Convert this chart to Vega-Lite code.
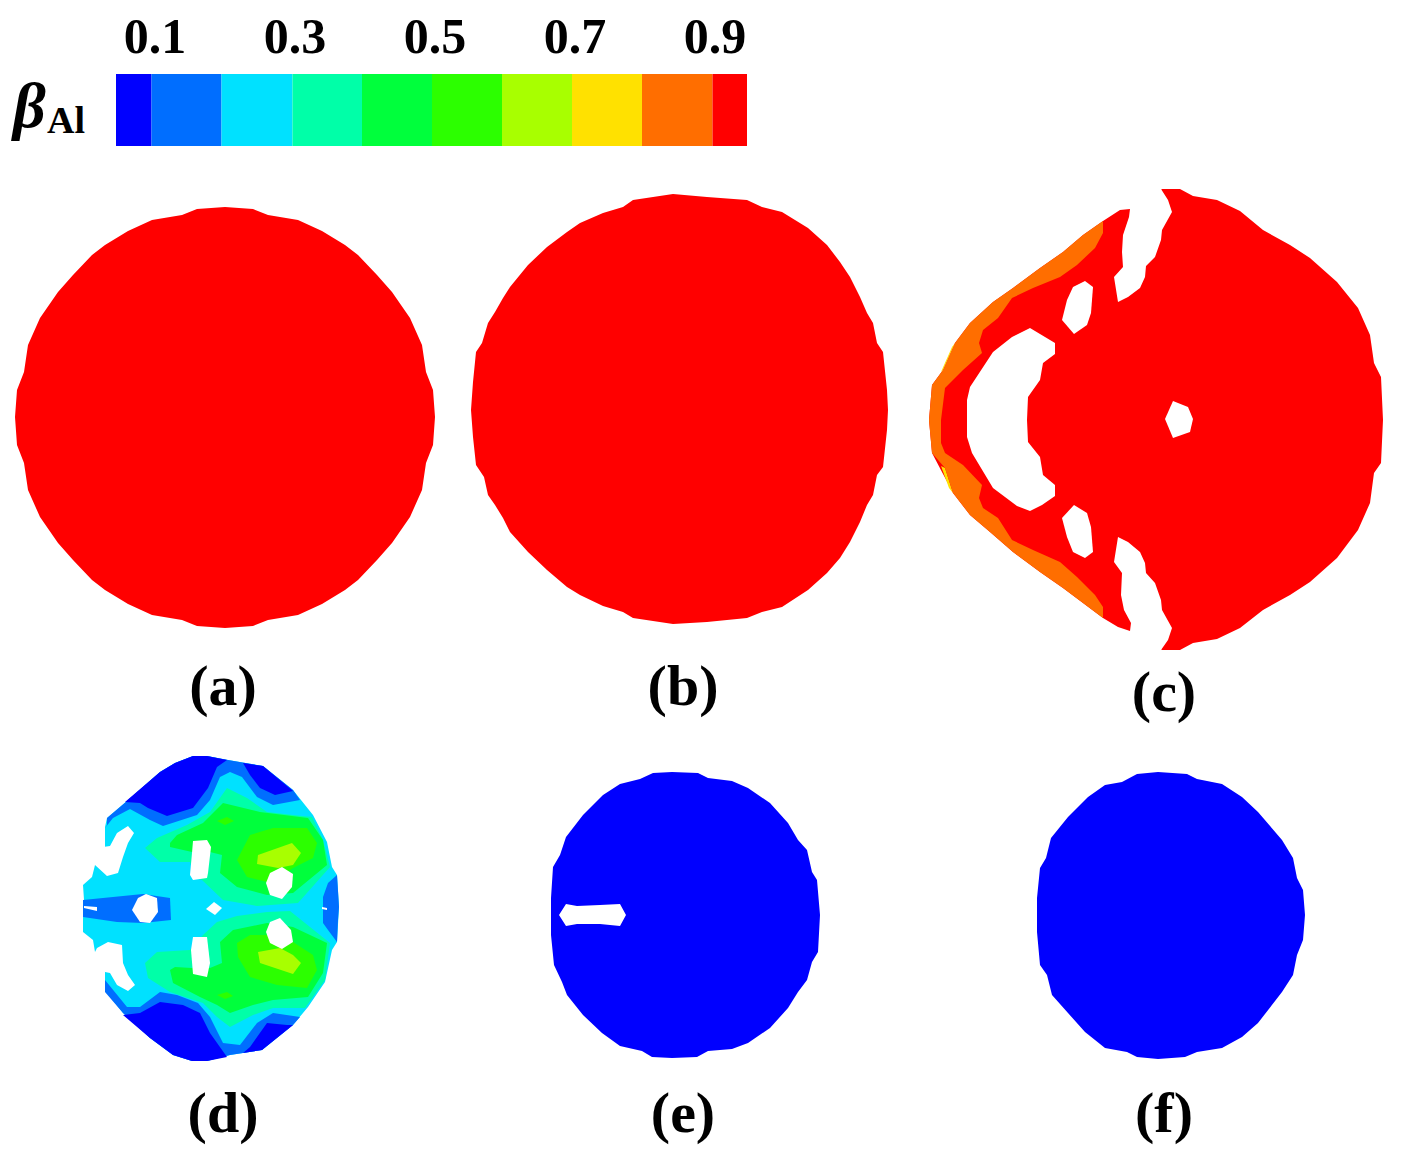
{"$schema":"https://vega.github.io/schema/vega-lite/v6.json","width":1407,"height":1161,"padding":0,"autosize":{"type":"fit","contains":"padding"},"background":"white","view":{"stroke":null},
"layer":[
{"data":{"name":"regions","values":[
{"part":"a","band":"0.9-1","x":225,"y":207},{"part":"a","band":"0.9-1","x":253,"y":209},{"part":"a","band":"0.9-1","x":268,"y":215},{"part":"a","band":"0.9-1","x":298,"y":220},{"part":"a","band":"0.9-1","x":322,"y":231},{"part":"a","band":"0.9-1","x":345,"y":245},{"part":"a","band":"0.9-1","x":358,"y":255},{"part":"a","band":"0.9-1","x":377,"y":275},{"part":"a","band":"0.9-1","x":392,"y":292},{"part":"a","band":"0.9-1","x":410,"y":318},{"part":"a","band":"0.9-1","x":422,"y":345},{"part":"a","band":"0.9-1","x":426,"y":372},{"part":"a","band":"0.9-1","x":433,"y":390},{"part":"a","band":"0.9-1","x":435,"y":417},{"part":"a","band":"0.9-1","x":433,"y":445},{"part":"a","band":"0.9-1","x":426,"y":463},{"part":"a","band":"0.9-1","x":422,"y":490},{"part":"a","band":"0.9-1","x":410,"y":517},{"part":"a","band":"0.9-1","x":392,"y":543},{"part":"a","band":"0.9-1","x":377,"y":560},{"part":"a","band":"0.9-1","x":358,"y":580},{"part":"a","band":"0.9-1","x":345,"y":590},{"part":"a","band":"0.9-1","x":322,"y":604},{"part":"a","band":"0.9-1","x":298,"y":615},{"part":"a","band":"0.9-1","x":268,"y":620},{"part":"a","band":"0.9-1","x":253,"y":626},{"part":"a","band":"0.9-1","x":225,"y":628},{"part":"a","band":"0.9-1","x":197,"y":626},{"part":"a","band":"0.9-1","x":182,"y":620},{"part":"a","band":"0.9-1","x":152,"y":615},{"part":"a","band":"0.9-1","x":128,"y":604},{"part":"a","band":"0.9-1","x":105,"y":590},{"part":"a","band":"0.9-1","x":92,"y":580},{"part":"a","band":"0.9-1","x":73,"y":560},{"part":"a","band":"0.9-1","x":58,"y":543},{"part":"a","band":"0.9-1","x":40,"y":517},{"part":"a","band":"0.9-1","x":28,"y":490},{"part":"a","band":"0.9-1","x":24,"y":463},{"part":"a","band":"0.9-1","x":17,"y":445},{"part":"a","band":"0.9-1","x":15,"y":417},{"part":"a","band":"0.9-1","x":17,"y":390},{"part":"a","band":"0.9-1","x":24,"y":372},{"part":"a","band":"0.9-1","x":28,"y":345},{"part":"a","band":"0.9-1","x":40,"y":318},{"part":"a","band":"0.9-1","x":58,"y":292},{"part":"a","band":"0.9-1","x":73,"y":275},{"part":"a","band":"0.9-1","x":92,"y":255},{"part":"a","band":"0.9-1","x":105,"y":245},{"part":"a","band":"0.9-1","x":128,"y":231},{"part":"a","band":"0.9-1","x":152,"y":220},{"part":"a","band":"0.9-1","x":182,"y":215},{"part":"a","band":"0.9-1","x":197,"y":209},
{"part":"b","band":"0.9-1","x":673,"y":194},{"part":"b","band":"0.9-1","x":707,"y":197},{"part":"b","band":"0.9-1","x":747,"y":200},{"part":"b","band":"0.9-1","x":762,"y":207},{"part":"b","band":"0.9-1","x":782,"y":212},{"part":"b","band":"0.9-1","x":808,"y":228},{"part":"b","band":"0.9-1","x":827,"y":245},{"part":"b","band":"0.9-1","x":840,"y":262},{"part":"b","band":"0.9-1","x":850,"y":277},{"part":"b","band":"0.9-1","x":860,"y":297},{"part":"b","band":"0.9-1","x":867,"y":313},{"part":"b","band":"0.9-1","x":873,"y":323},{"part":"b","band":"0.9-1","x":877,"y":343},{"part":"b","band":"0.9-1","x":883,"y":352},{"part":"b","band":"0.9-1","x":887,"y":390},{"part":"b","band":"0.9-1","x":888,"y":410},{"part":"b","band":"0.9-1","x":887,"y":430},{"part":"b","band":"0.9-1","x":883,"y":467},{"part":"b","band":"0.9-1","x":877,"y":475},{"part":"b","band":"0.9-1","x":873,"y":495},{"part":"b","band":"0.9-1","x":867,"y":505},{"part":"b","band":"0.9-1","x":860,"y":522},{"part":"b","band":"0.9-1","x":850,"y":542},{"part":"b","band":"0.9-1","x":840,"y":558},{"part":"b","band":"0.9-1","x":827,"y":573},{"part":"b","band":"0.9-1","x":808,"y":590},{"part":"b","band":"0.9-1","x":782,"y":607},{"part":"b","band":"0.9-1","x":762,"y":612},{"part":"b","band":"0.9-1","x":747,"y":618},{"part":"b","band":"0.9-1","x":707,"y":622},{"part":"b","band":"0.9-1","x":673,"y":624},{"part":"b","band":"0.9-1","x":633,"y":618},{"part":"b","band":"0.9-1","x":623,"y":612},{"part":"b","band":"0.9-1","x":603,"y":606},{"part":"b","band":"0.9-1","x":580,"y":595},{"part":"b","band":"0.9-1","x":567,"y":587},{"part":"b","band":"0.9-1","x":547,"y":570},{"part":"b","band":"0.9-1","x":528,"y":552},{"part":"b","band":"0.9-1","x":510,"y":532},{"part":"b","band":"0.9-1","x":503,"y":518},{"part":"b","band":"0.9-1","x":495,"y":505},{"part":"b","band":"0.9-1","x":488,"y":495},{"part":"b","band":"0.9-1","x":484,"y":477},{"part":"b","band":"0.9-1","x":476,"y":465},{"part":"b","band":"0.9-1","x":473,"y":437},{"part":"b","band":"0.9-1","x":471,"y":410},{"part":"b","band":"0.9-1","x":473,"y":382},{"part":"b","band":"0.9-1","x":476,"y":352},{"part":"b","band":"0.9-1","x":482,"y":343},{"part":"b","band":"0.9-1","x":488,"y":323},{"part":"b","band":"0.9-1","x":495,"y":312},{"part":"b","band":"0.9-1","x":503,"y":298},{"part":"b","band":"0.9-1","x":510,"y":287},{"part":"b","band":"0.9-1","x":528,"y":265},{"part":"b","band":"0.9-1","x":547,"y":247},{"part":"b","band":"0.9-1","x":567,"y":232},{"part":"b","band":"0.9-1","x":580,"y":223},{"part":"b","band":"0.9-1","x":603,"y":213},{"part":"b","band":"0.9-1","x":623,"y":207},{"part":"b","band":"0.9-1","x":633,"y":200},
{"part":"c","band":"0.9-1","x":1162,"y":189},{"part":"c","band":"0.9-1","x":1180,"y":189},{"part":"c","band":"0.9-1","x":1193,"y":196},{"part":"c","band":"0.9-1","x":1217,"y":200},{"part":"c","band":"0.9-1","x":1240,"y":211},{"part":"c","band":"0.9-1","x":1263,"y":230},{"part":"c","band":"0.9-1","x":1290,"y":245},{"part":"c","band":"0.9-1","x":1310,"y":258},{"part":"c","band":"0.9-1","x":1337,"y":282},{"part":"c","band":"0.9-1","x":1358,"y":308},{"part":"c","band":"0.9-1","x":1370,"y":335},{"part":"c","band":"0.9-1","x":1374,"y":363},{"part":"c","band":"0.9-1","x":1381,"y":377},{"part":"c","band":"0.9-1","x":1383,"y":420},{"part":"c","band":"0.9-1","x":1381,"y":463},{"part":"c","band":"0.9-1","x":1374,"y":473},{"part":"c","band":"0.9-1","x":1370,"y":503},{"part":"c","band":"0.9-1","x":1358,"y":530},{"part":"c","band":"0.9-1","x":1337,"y":558},{"part":"c","band":"0.9-1","x":1310,"y":582},{"part":"c","band":"0.9-1","x":1290,"y":595},{"part":"c","band":"0.9-1","x":1263,"y":610},{"part":"c","band":"0.9-1","x":1240,"y":628},{"part":"c","band":"0.9-1","x":1217,"y":639},{"part":"c","band":"0.9-1","x":1193,"y":643},{"part":"c","band":"0.9-1","x":1180,"y":650},{"part":"c","band":"0.9-1","x":1162,"y":650},{"part":"c","band":"0.9-1","x":1130,"y":631},{"part":"c","band":"0.9-1","x":1118,"y":627},{"part":"c","band":"0.9-1","x":1103,"y":618},{"part":"c","band":"0.9-1","x":1083,"y":603},{"part":"c","band":"0.9-1","x":1063,"y":588},{"part":"c","band":"0.9-1","x":1040,"y":572},{"part":"c","band":"0.9-1","x":1013,"y":552},{"part":"c","band":"0.9-1","x":990,"y":532},{"part":"c","band":"0.9-1","x":970,"y":515},{"part":"c","band":"0.9-1","x":953,"y":493},{"part":"c","band":"0.9-1","x":932,"y":453},{"part":"c","band":"0.9-1","x":929,"y":420},{"part":"c","band":"0.9-1","x":932,"y":385},{"part":"c","band":"0.9-1","x":943,"y":370},{"part":"c","band":"0.9-1","x":955,"y":343},{"part":"c","band":"0.9-1","x":970,"y":323},{"part":"c","band":"0.9-1","x":993,"y":302},{"part":"c","band":"0.9-1","x":1013,"y":288},{"part":"c","band":"0.9-1","x":1040,"y":268},{"part":"c","band":"0.9-1","x":1063,"y":252},{"part":"c","band":"0.9-1","x":1083,"y":235},{"part":"c","band":"0.9-1","x":1103,"y":221},{"part":"c","band":"0.9-1","x":1120,"y":210},{"part":"c","band":"0.9-1","x":1130,"y":209},
{"part":"c-y1","band":"0.7-0.8","x":955,"y":343},{"part":"c-y1","band":"0.7-0.8","x":943,"y":370},{"part":"c-y1","band":"0.7-0.8","x":941,"y":372},{"part":"c-y1","band":"0.7-0.8","x":952,"y":347},
{"part":"c-y2","band":"0.7-0.8","x":941,"y":466},{"part":"c-y2","band":"0.7-0.8","x":949,"y":488},{"part":"c-y2","band":"0.7-0.8","x":953,"y":493},{"part":"c-y2","band":"0.7-0.8","x":945,"y":468},
{"part":"c-o","band":"0.8-0.9","x":1103,"y":221},{"part":"c-o","band":"0.8-0.9","x":1083,"y":235},{"part":"c-o","band":"0.8-0.9","x":1063,"y":252},{"part":"c-o","band":"0.8-0.9","x":1040,"y":268},{"part":"c-o","band":"0.8-0.9","x":1013,"y":288},{"part":"c-o","band":"0.8-0.9","x":993,"y":302},{"part":"c-o","band":"0.8-0.9","x":970,"y":323},{"part":"c-o","band":"0.8-0.9","x":955,"y":343},{"part":"c-o","band":"0.8-0.9","x":943,"y":370},{"part":"c-o","band":"0.8-0.9","x":932,"y":385},{"part":"c-o","band":"0.8-0.9","x":929,"y":420},{"part":"c-o","band":"0.8-0.9","x":932,"y":453},{"part":"c-o","band":"0.8-0.9","x":945,"y":468},{"part":"c-o","band":"0.8-0.9","x":953,"y":493},{"part":"c-o","band":"0.8-0.9","x":970,"y":515},{"part":"c-o","band":"0.8-0.9","x":990,"y":532},{"part":"c-o","band":"0.8-0.9","x":1013,"y":552},{"part":"c-o","band":"0.8-0.9","x":1040,"y":572},{"part":"c-o","band":"0.8-0.9","x":1063,"y":588},{"part":"c-o","band":"0.8-0.9","x":1083,"y":603},{"part":"c-o","band":"0.8-0.9","x":1103,"y":618},{"part":"c-o","band":"0.8-0.9","x":1103,"y":607},{"part":"c-o","band":"0.8-0.9","x":1095,"y":595},{"part":"c-o","band":"0.8-0.9","x":1077,"y":577},{"part":"c-o","band":"0.8-0.9","x":1060,"y":562},{"part":"c-o","band":"0.8-0.9","x":1033,"y":550},{"part":"c-o","band":"0.8-0.9","x":1012,"y":540},{"part":"c-o","band":"0.8-0.9","x":998,"y":518},{"part":"c-o","band":"0.8-0.9","x":983,"y":508},{"part":"c-o","band":"0.8-0.9","x":979,"y":498},{"part":"c-o","band":"0.8-0.9","x":982,"y":485},{"part":"c-o","band":"0.8-0.9","x":963,"y":465},{"part":"c-o","band":"0.8-0.9","x":945,"y":453},{"part":"c-o","band":"0.8-0.9","x":941,"y":443},{"part":"c-o","band":"0.8-0.9","x":941,"y":420},{"part":"c-o","band":"0.8-0.9","x":945,"y":388},{"part":"c-o","band":"0.8-0.9","x":963,"y":370},{"part":"c-o","band":"0.8-0.9","x":982,"y":353},{"part":"c-o","band":"0.8-0.9","x":979,"y":343},{"part":"c-o","band":"0.8-0.9","x":983,"y":330},{"part":"c-o","band":"0.8-0.9","x":998,"y":318},{"part":"c-o","band":"0.8-0.9","x":1012,"y":298},{"part":"c-o","band":"0.8-0.9","x":1033,"y":288},{"part":"c-o","band":"0.8-0.9","x":1060,"y":277},{"part":"c-o","band":"0.8-0.9","x":1077,"y":265},{"part":"c-o","band":"0.8-0.9","x":1095,"y":248},{"part":"c-o","band":"0.8-0.9","x":1103,"y":233},
{"part":"c-h1","band":"none","x":1130,"y":209},{"part":"c-h1","band":"none","x":1129,"y":217},{"part":"c-h1","band":"none","x":1123,"y":235},{"part":"c-h1","band":"none","x":1122,"y":252},{"part":"c-h1","band":"none","x":1123,"y":267},{"part":"c-h1","band":"none","x":1114,"y":277},{"part":"c-h1","band":"none","x":1118,"y":302},{"part":"c-h1","band":"none","x":1128,"y":297},{"part":"c-h1","band":"none","x":1140,"y":288},{"part":"c-h1","band":"none","x":1145,"y":277},{"part":"c-h1","band":"none","x":1146,"y":266},{"part":"c-h1","band":"none","x":1155,"y":257},{"part":"c-h1","band":"none","x":1161,"y":240},{"part":"c-h1","band":"none","x":1162,"y":230},{"part":"c-h1","band":"none","x":1172,"y":212},{"part":"c-h1","band":"none","x":1168,"y":200},{"part":"c-h1","band":"none","x":1161,"y":189},{"part":"c-h1","band":"none","x":1150,"y":185},{"part":"c-h1","band":"none","x":1128,"y":200},
{"part":"c-h2","band":"none","x":1130,"y":631},{"part":"c-h2","band":"none","x":1131,"y":623},{"part":"c-h2","band":"none","x":1124,"y":610},{"part":"c-h2","band":"none","x":1121,"y":595},{"part":"c-h2","band":"none","x":1122,"y":573},{"part":"c-h2","band":"none","x":1114,"y":562},{"part":"c-h2","band":"none","x":1118,"y":537},{"part":"c-h2","band":"none","x":1128,"y":542},{"part":"c-h2","band":"none","x":1140,"y":552},{"part":"c-h2","band":"none","x":1145,"y":563},{"part":"c-h2","band":"none","x":1146,"y":573},{"part":"c-h2","band":"none","x":1155,"y":583},{"part":"c-h2","band":"none","x":1161,"y":600},{"part":"c-h2","band":"none","x":1162,"y":610},{"part":"c-h2","band":"none","x":1172,"y":628},{"part":"c-h2","band":"none","x":1168,"y":640},{"part":"c-h2","band":"none","x":1161,"y":650},{"part":"c-h2","band":"none","x":1150,"y":654},{"part":"c-h2","band":"none","x":1128,"y":640},
{"part":"c-h3","band":"none","x":1055,"y":343},{"part":"c-h3","band":"none","x":1055,"y":354},{"part":"c-h3","band":"none","x":1043,"y":363},{"part":"c-h3","band":"none","x":1040,"y":380},{"part":"c-h3","band":"none","x":1028,"y":397},{"part":"c-h3","band":"none","x":1027,"y":420},{"part":"c-h3","band":"none","x":1028,"y":442},{"part":"c-h3","band":"none","x":1040,"y":457},{"part":"c-h3","band":"none","x":1043,"y":475},{"part":"c-h3","band":"none","x":1055,"y":485},{"part":"c-h3","band":"none","x":1055,"y":496},{"part":"c-h3","band":"none","x":1042,"y":505},{"part":"c-h3","band":"none","x":1030,"y":511},{"part":"c-h3","band":"none","x":1017,"y":506},{"part":"c-h3","band":"none","x":993,"y":488},{"part":"c-h3","band":"none","x":972,"y":453},{"part":"c-h3","band":"none","x":967,"y":437},{"part":"c-h3","band":"none","x":967,"y":420},{"part":"c-h3","band":"none","x":967,"y":400},{"part":"c-h3","band":"none","x":970,"y":387},{"part":"c-h3","band":"none","x":993,"y":352},{"part":"c-h3","band":"none","x":1012,"y":337},{"part":"c-h3","band":"none","x":1030,"y":328},
{"part":"c-h4","band":"none","x":1085,"y":281},{"part":"c-h4","band":"none","x":1093,"y":287},{"part":"c-h4","band":"none","x":1091,"y":313},{"part":"c-h4","band":"none","x":1087,"y":325},{"part":"c-h4","band":"none","x":1074,"y":334},{"part":"c-h4","band":"none","x":1062,"y":320},{"part":"c-h4","band":"none","x":1067,"y":300},{"part":"c-h4","band":"none","x":1073,"y":287},
{"part":"c-h5","band":"none","x":1074,"y":505},{"part":"c-h5","band":"none","x":1087,"y":513},{"part":"c-h5","band":"none","x":1091,"y":527},{"part":"c-h5","band":"none","x":1093,"y":552},{"part":"c-h5","band":"none","x":1085,"y":558},{"part":"c-h5","band":"none","x":1073,"y":552},{"part":"c-h5","band":"none","x":1067,"y":537},{"part":"c-h5","band":"none","x":1062,"y":518},
{"part":"c-h6","band":"none","x":1173,"y":401},{"part":"c-h6","band":"none","x":1188,"y":407},{"part":"c-h6","band":"none","x":1193,"y":419},{"part":"c-h6","band":"none","x":1190,"y":432},{"part":"c-h6","band":"none","x":1173,"y":438},{"part":"c-h6","band":"none","x":1165,"y":419},
{"part":"d-base","band":"0.2-0.3","x":193,"y":756},{"part":"d-base","band":"0.2-0.3","x":207,"y":756},{"part":"d-base","band":"0.2-0.3","x":228,"y":760},{"part":"d-base","band":"0.2-0.3","x":263,"y":766},{"part":"d-base","band":"0.2-0.3","x":293,"y":790},{"part":"d-base","band":"0.2-0.3","x":313,"y":815},{"part":"d-base","band":"0.2-0.3","x":327,"y":842},{"part":"d-base","band":"0.2-0.3","x":332,"y":867},{"part":"d-base","band":"0.2-0.3","x":337,"y":875},{"part":"d-base","band":"0.2-0.3","x":339,"y":907},{"part":"d-base","band":"0.2-0.3","x":337,"y":942},{"part":"d-base","band":"0.2-0.3","x":332,"y":950},{"part":"d-base","band":"0.2-0.3","x":325,"y":982},{"part":"d-base","band":"0.2-0.3","x":308,"y":1007},{"part":"d-base","band":"0.2-0.3","x":293,"y":1025},{"part":"d-base","band":"0.2-0.3","x":262,"y":1050},{"part":"d-base","band":"0.2-0.3","x":230,"y":1055},{"part":"d-base","band":"0.2-0.3","x":207,"y":1061},{"part":"d-base","band":"0.2-0.3","x":192,"y":1061},{"part":"d-base","band":"0.2-0.3","x":173,"y":1055},{"part":"d-base","band":"0.2-0.3","x":150,"y":1038},{"part":"d-base","band":"0.2-0.3","x":123,"y":1013},{"part":"d-base","band":"0.2-0.3","x":105,"y":990},{"part":"d-base","band":"0.2-0.3","x":105,"y":972},{"part":"d-base","band":"0.2-0.3","x":95,"y":952},{"part":"d-base","band":"0.2-0.3","x":93,"y":940},{"part":"d-base","band":"0.2-0.3","x":83,"y":932},{"part":"d-base","band":"0.2-0.3","x":83,"y":918},{"part":"d-base","band":"0.2-0.3","x":84,"y":900},{"part":"d-base","band":"0.2-0.3","x":83,"y":885},{"part":"d-base","band":"0.2-0.3","x":92,"y":877},{"part":"d-base","band":"0.2-0.3","x":95,"y":865},{"part":"d-base","band":"0.2-0.3","x":105,"y":847},{"part":"d-base","band":"0.2-0.3","x":105,"y":827},{"part":"d-base","band":"0.2-0.3","x":107,"y":818},{"part":"d-base","band":"0.2-0.3","x":127,"y":801},{"part":"d-base","band":"0.2-0.3","x":160,"y":772},{"part":"d-base","band":"0.2-0.3","x":175,"y":763},
{"part":"d-m1","band":"0.1-0.2","x":107,"y":825},{"part":"d-m1","band":"0.1-0.2","x":107,"y":818},{"part":"d-m1","band":"0.1-0.2","x":127,"y":801},{"part":"d-m1","band":"0.1-0.2","x":160,"y":772},{"part":"d-m1","band":"0.1-0.2","x":175,"y":763},{"part":"d-m1","band":"0.1-0.2","x":193,"y":756},{"part":"d-m1","band":"0.1-0.2","x":207,"y":756},{"part":"d-m1","band":"0.1-0.2","x":228,"y":760},{"part":"d-m1","band":"0.1-0.2","x":263,"y":766},{"part":"d-m1","band":"0.1-0.2","x":293,"y":790},{"part":"d-m1","band":"0.1-0.2","x":300,"y":800},{"part":"d-m1","band":"0.1-0.2","x":273,"y":805},{"part":"d-m1","band":"0.1-0.2","x":257,"y":797},{"part":"d-m1","band":"0.1-0.2","x":242,"y":777},{"part":"d-m1","band":"0.1-0.2","x":230,"y":772},{"part":"d-m1","band":"0.1-0.2","x":220,"y":777},{"part":"d-m1","band":"0.1-0.2","x":210,"y":800},{"part":"d-m1","band":"0.1-0.2","x":197,"y":815},{"part":"d-m1","band":"0.1-0.2","x":163,"y":826},{"part":"d-m1","band":"0.1-0.2","x":150,"y":820},{"part":"d-m1","band":"0.1-0.2","x":130,"y":809},{"part":"d-m1","band":"0.1-0.2","x":113,"y":818},{"part":"d-m1","band":"0.1-0.2","x":105,"y":828},
{"part":"d-k1","band":"0-0.1","x":125,"y":802},{"part":"d-k1","band":"0-0.1","x":160,"y":772},{"part":"d-k1","band":"0-0.1","x":175,"y":763},{"part":"d-k1","band":"0-0.1","x":193,"y":756},{"part":"d-k1","band":"0-0.1","x":207,"y":756},{"part":"d-k1","band":"0-0.1","x":227,"y":760},{"part":"d-k1","band":"0-0.1","x":217,"y":767},{"part":"d-k1","band":"0-0.1","x":208,"y":788},{"part":"d-k1","band":"0-0.1","x":193,"y":808},{"part":"d-k1","band":"0-0.1","x":167,"y":816},{"part":"d-k1","band":"0-0.1","x":148,"y":808},{"part":"d-k1","band":"0-0.1","x":140,"y":803},
{"part":"d-k2","band":"0-0.1","x":243,"y":763},{"part":"d-k2","band":"0-0.1","x":263,"y":766},{"part":"d-k2","band":"0-0.1","x":293,"y":791},{"part":"d-k2","band":"0-0.1","x":275,"y":795},{"part":"d-k2","band":"0-0.1","x":260,"y":788},{"part":"d-k2","band":"0-0.1","x":250,"y":775},
{"part":"d-a1","band":"0.3-0.4","x":145,"y":848},{"part":"d-a1","band":"0.3-0.4","x":157,"y":838},{"part":"d-a1","band":"0.3-0.4","x":187,"y":825},{"part":"d-a1","band":"0.3-0.4","x":210,"y":812},{"part":"d-a1","band":"0.3-0.4","x":227,"y":788},{"part":"d-a1","band":"0.3-0.4","x":247,"y":798},{"part":"d-a1","band":"0.3-0.4","x":267,"y":812},{"part":"d-a1","band":"0.3-0.4","x":293,"y":815},{"part":"d-a1","band":"0.3-0.4","x":312,"y":817},{"part":"d-a1","band":"0.3-0.4","x":323,"y":840},{"part":"d-a1","band":"0.3-0.4","x":330,"y":867},{"part":"d-a1","band":"0.3-0.4","x":298,"y":903},{"part":"d-a1","band":"0.3-0.4","x":257,"y":906},{"part":"d-a1","band":"0.3-0.4","x":223,"y":900},{"part":"d-a1","band":"0.3-0.4","x":202,"y":880},{"part":"d-a1","band":"0.3-0.4","x":195,"y":878},{"part":"d-a1","band":"0.3-0.4","x":190,"y":862},{"part":"d-a1","band":"0.3-0.4","x":160,"y":862},
{"part":"d-g1","band":"0.4-0.5","x":170,"y":843},{"part":"d-g1","band":"0.4-0.5","x":177,"y":835},{"part":"d-g1","band":"0.4-0.5","x":203,"y":823},{"part":"d-g1","band":"0.4-0.5","x":223,"y":803},{"part":"d-g1","band":"0.4-0.5","x":260,"y":812},{"part":"d-g1","band":"0.4-0.5","x":308,"y":818},{"part":"d-g1","band":"0.4-0.5","x":323,"y":840},{"part":"d-g1","band":"0.4-0.5","x":327,"y":865},{"part":"d-g1","band":"0.4-0.5","x":293,"y":893},{"part":"d-g1","band":"0.4-0.5","x":267,"y":895},{"part":"d-g1","band":"0.4-0.5","x":237,"y":887},{"part":"d-g1","band":"0.4-0.5","x":220,"y":873},{"part":"d-g1","band":"0.4-0.5","x":222,"y":855},{"part":"d-g1","band":"0.4-0.5","x":210,"y":852},{"part":"d-g1","band":"0.4-0.5","x":192,"y":852},{"part":"d-g1","band":"0.4-0.5","x":170,"y":847},
{"part":"d-s1","band":"0.5-0.6","x":217,"y":821},{"part":"d-s1","band":"0.5-0.6","x":227,"y":817},{"part":"d-s1","band":"0.5-0.6","x":234,"y":821},{"part":"d-s1","band":"0.5-0.6","x":225,"y":825},
{"part":"d-l1","band":"0.5-0.6","x":237,"y":860},{"part":"d-l1","band":"0.5-0.6","x":250,"y":835},{"part":"d-l1","band":"0.5-0.6","x":273,"y":828},{"part":"d-l1","band":"0.5-0.6","x":307,"y":828},{"part":"d-l1","band":"0.5-0.6","x":317,"y":843},{"part":"d-l1","band":"0.5-0.6","x":313,"y":858},{"part":"d-l1","band":"0.5-0.6","x":293,"y":868},{"part":"d-l1","band":"0.5-0.6","x":273,"y":882},{"part":"d-l1","band":"0.5-0.6","x":267,"y":882},{"part":"d-l1","band":"0.5-0.6","x":247,"y":877},
{"part":"d-y1","band":"0.6-0.7","x":258,"y":855},{"part":"d-y1","band":"0.6-0.7","x":292,"y":843},{"part":"d-y1","band":"0.6-0.7","x":301,"y":853},{"part":"d-y1","band":"0.6-0.7","x":293,"y":865},{"part":"d-y1","band":"0.6-0.7","x":278,"y":868},{"part":"d-y1","band":"0.6-0.7","x":257,"y":864},
{"part":"d-a2","band":"0.3-0.4","x":145,"y":963},{"part":"d-a2","band":"0.3-0.4","x":157,"y":952},{"part":"d-a2","band":"0.3-0.4","x":190,"y":950},{"part":"d-a2","band":"0.3-0.4","x":203,"y":935},{"part":"d-a2","band":"0.3-0.4","x":217,"y":922},{"part":"d-a2","band":"0.3-0.4","x":237,"y":916},{"part":"d-a2","band":"0.3-0.4","x":267,"y":912},{"part":"d-a2","band":"0.3-0.4","x":290,"y":911},{"part":"d-a2","band":"0.3-0.4","x":330,"y":943},{"part":"d-a2","band":"0.3-0.4","x":325,"y":980},{"part":"d-a2","band":"0.3-0.4","x":305,"y":1008},{"part":"d-a2","band":"0.3-0.4","x":273,"y":1008},{"part":"d-a2","band":"0.3-0.4","x":253,"y":1015},{"part":"d-a2","band":"0.3-0.4","x":230,"y":1027},{"part":"d-a2","band":"0.3-0.4","x":217,"y":1017},{"part":"d-a2","band":"0.3-0.4","x":203,"y":1003},{"part":"d-a2","band":"0.3-0.4","x":170,"y":992},{"part":"d-a2","band":"0.3-0.4","x":148,"y":978},
{"part":"d-g2","band":"0.4-0.5","x":170,"y":970},{"part":"d-g2","band":"0.4-0.5","x":175,"y":967},{"part":"d-g2","band":"0.4-0.5","x":192,"y":968},{"part":"d-g2","band":"0.4-0.5","x":210,"y":968},{"part":"d-g2","band":"0.4-0.5","x":222,"y":963},{"part":"d-g2","band":"0.4-0.5","x":220,"y":942},{"part":"d-g2","band":"0.4-0.5","x":233,"y":930},{"part":"d-g2","band":"0.4-0.5","x":267,"y":923},{"part":"d-g2","band":"0.4-0.5","x":293,"y":927},{"part":"d-g2","band":"0.4-0.5","x":327,"y":943},{"part":"d-g2","band":"0.4-0.5","x":323,"y":973},{"part":"d-g2","band":"0.4-0.5","x":308,"y":997},{"part":"d-g2","band":"0.4-0.5","x":273,"y":1000},{"part":"d-g2","band":"0.4-0.5","x":253,"y":1005},{"part":"d-g2","band":"0.4-0.5","x":230,"y":1013},{"part":"d-g2","band":"0.4-0.5","x":217,"y":1005},{"part":"d-g2","band":"0.4-0.5","x":200,"y":997},{"part":"d-g2","band":"0.4-0.5","x":173,"y":983},
{"part":"d-s2","band":"0.5-0.6","x":217,"y":995},{"part":"d-s2","band":"0.5-0.6","x":227,"y":992},{"part":"d-s2","band":"0.5-0.6","x":233,"y":996},{"part":"d-s2","band":"0.5-0.6","x":225,"y":999},
{"part":"d-l2","band":"0.5-0.6","x":237,"y":943},{"part":"d-l2","band":"0.5-0.6","x":250,"y":935},{"part":"d-l2","band":"0.5-0.6","x":273,"y":935},{"part":"d-l2","band":"0.5-0.6","x":293,"y":942},{"part":"d-l2","band":"0.5-0.6","x":313,"y":955},{"part":"d-l2","band":"0.5-0.6","x":317,"y":970},{"part":"d-l2","band":"0.5-0.6","x":307,"y":988},{"part":"d-l2","band":"0.5-0.6","x":277,"y":985},{"part":"d-l2","band":"0.5-0.6","x":250,"y":977},{"part":"d-l2","band":"0.5-0.6","x":238,"y":957},
{"part":"d-y2","band":"0.6-0.7","x":258,"y":952},{"part":"d-y2","band":"0.6-0.7","x":280,"y":948},{"part":"d-y2","band":"0.6-0.7","x":293,"y":955},{"part":"d-y2","band":"0.6-0.7","x":301,"y":963},{"part":"d-y2","band":"0.6-0.7","x":293,"y":974},{"part":"d-y2","band":"0.6-0.7","x":260,"y":963},
{"part":"d-m2","band":"0.1-0.2","x":105,"y":980},{"part":"d-m2","band":"0.1-0.2","x":127,"y":1007},{"part":"d-m2","band":"0.1-0.2","x":140,"y":1007},{"part":"d-m2","band":"0.1-0.2","x":160,"y":992},{"part":"d-m2","band":"0.1-0.2","x":177,"y":995},{"part":"d-m2","band":"0.1-0.2","x":198,"y":1003},{"part":"d-m2","band":"0.1-0.2","x":210,"y":1017},{"part":"d-m2","band":"0.1-0.2","x":223,"y":1043},{"part":"d-m2","band":"0.1-0.2","x":240,"y":1045},{"part":"d-m2","band":"0.1-0.2","x":257,"y":1023},{"part":"d-m2","band":"0.1-0.2","x":273,"y":1013},{"part":"d-m2","band":"0.1-0.2","x":300,"y":1017},{"part":"d-m2","band":"0.1-0.2","x":293,"y":1025},{"part":"d-m2","band":"0.1-0.2","x":262,"y":1050},{"part":"d-m2","band":"0.1-0.2","x":230,"y":1055},{"part":"d-m2","band":"0.1-0.2","x":207,"y":1061},{"part":"d-m2","band":"0.1-0.2","x":192,"y":1061},{"part":"d-m2","band":"0.1-0.2","x":173,"y":1055},{"part":"d-m2","band":"0.1-0.2","x":150,"y":1038},{"part":"d-m2","band":"0.1-0.2","x":123,"y":1013},{"part":"d-m2","band":"0.1-0.2","x":105,"y":992},
{"part":"d-k3","band":"0-0.1","x":123,"y":1015},{"part":"d-k3","band":"0-0.1","x":140,"y":1013},{"part":"d-k3","band":"0-0.1","x":160,"y":1002},{"part":"d-k3","band":"0-0.1","x":183,"y":1005},{"part":"d-k3","band":"0-0.1","x":200,"y":1013},{"part":"d-k3","band":"0-0.1","x":210,"y":1033},{"part":"d-k3","band":"0-0.1","x":227,"y":1057},{"part":"d-k3","band":"0-0.1","x":207,"y":1061},{"part":"d-k3","band":"0-0.1","x":192,"y":1061},{"part":"d-k3","band":"0-0.1","x":173,"y":1055},{"part":"d-k3","band":"0-0.1","x":150,"y":1038},
{"part":"d-k4","band":"0-0.1","x":243,"y":1053},{"part":"d-k4","band":"0-0.1","x":250,"y":1047},{"part":"d-k4","band":"0-0.1","x":267,"y":1023},{"part":"d-k4","band":"0-0.1","x":287,"y":1025},{"part":"d-k4","band":"0-0.1","x":293,"y":1025},{"part":"d-k4","band":"0-0.1","x":262,"y":1050},
{"part":"d-m3","band":"0.1-0.2","x":83,"y":900},{"part":"d-m3","band":"0.1-0.2","x":103,"y":898},{"part":"d-m3","band":"0.1-0.2","x":143,"y":894},{"part":"d-m3","band":"0.1-0.2","x":170,"y":898},{"part":"d-m3","band":"0.1-0.2","x":171,"y":920},{"part":"d-m3","band":"0.1-0.2","x":143,"y":923},{"part":"d-m3","band":"0.1-0.2","x":117,"y":922},{"part":"d-m3","band":"0.1-0.2","x":83,"y":917},
{"part":"d-m4","band":"0.1-0.2","x":337,"y":875},{"part":"d-m4","band":"0.1-0.2","x":339,"y":907},{"part":"d-m4","band":"0.1-0.2","x":338,"y":920},{"part":"d-m4","band":"0.1-0.2","x":337,"y":942},{"part":"d-m4","band":"0.1-0.2","x":328,"y":930},{"part":"d-m4","band":"0.1-0.2","x":323,"y":923},{"part":"d-m4","band":"0.1-0.2","x":323,"y":897},{"part":"d-m4","band":"0.1-0.2","x":328,"y":883},
{"part":"d-h1","band":"none","x":95,"y":865},{"part":"d-h1","band":"none","x":107,"y":876},{"part":"d-h1","band":"none","x":118,"y":873},{"part":"d-h1","band":"none","x":123,"y":857},{"part":"d-h1","band":"none","x":128,"y":843},{"part":"d-h1","band":"none","x":134,"y":833},{"part":"d-h1","band":"none","x":128,"y":826},{"part":"d-h1","band":"none","x":117,"y":833},{"part":"d-h1","band":"none","x":110,"y":846},{"part":"d-h1","band":"none","x":103,"y":847},{"part":"d-h1","band":"none","x":90,"y":850},
{"part":"d-h2","band":"none","x":95,"y":952},{"part":"d-h2","band":"none","x":97,"y":948},{"part":"d-h2","band":"none","x":108,"y":942},{"part":"d-h2","band":"none","x":122,"y":945},{"part":"d-h2","band":"none","x":123,"y":963},{"part":"d-h2","band":"none","x":128,"y":975},{"part":"d-h2","band":"none","x":135,"y":985},{"part":"d-h2","band":"none","x":128,"y":991},{"part":"d-h2","band":"none","x":117,"y":985},{"part":"d-h2","band":"none","x":110,"y":973},{"part":"d-h2","band":"none","x":105,"y":972},{"part":"d-h2","band":"none","x":90,"y":970},
{"part":"d-h3","band":"none","x":282,"y":867},{"part":"d-h3","band":"none","x":293,"y":874},{"part":"d-h3","band":"none","x":292,"y":887},{"part":"d-h3","band":"none","x":282,"y":899},{"part":"d-h3","band":"none","x":270,"y":895},{"part":"d-h3","band":"none","x":266,"y":883},{"part":"d-h3","band":"none","x":270,"y":873},
{"part":"d-h4","band":"none","x":193,"y":841},{"part":"d-h4","band":"none","x":207,"y":840},{"part":"d-h4","band":"none","x":211,"y":847},{"part":"d-h4","band":"none","x":208,"y":873},{"part":"d-h4","band":"none","x":207,"y":878},{"part":"d-h4","band":"none","x":193,"y":880},{"part":"d-h4","band":"none","x":190,"y":875},{"part":"d-h4","band":"none","x":192,"y":853},
{"part":"d-h5","band":"none","x":193,"y":937},{"part":"d-h5","band":"none","x":207,"y":937},{"part":"d-h5","band":"none","x":210,"y":963},{"part":"d-h5","band":"none","x":207,"y":977},{"part":"d-h5","band":"none","x":193,"y":974},{"part":"d-h5","band":"none","x":191,"y":950},
{"part":"d-h6","band":"none","x":280,"y":918},{"part":"d-h6","band":"none","x":291,"y":930},{"part":"d-h6","band":"none","x":293,"y":942},{"part":"d-h6","band":"none","x":282,"y":949},{"part":"d-h6","band":"none","x":270,"y":943},{"part":"d-h6","band":"none","x":266,"y":932},{"part":"d-h6","band":"none","x":270,"y":922},
{"part":"d-h7","band":"none","x":146,"y":894},{"part":"d-h7","band":"none","x":157,"y":898},{"part":"d-h7","band":"none","x":158,"y":912},{"part":"d-h7","band":"none","x":150,"y":923},{"part":"d-h7","band":"none","x":140,"y":922},{"part":"d-h7","band":"none","x":132,"y":910},{"part":"d-h7","band":"none","x":138,"y":898},
{"part":"d-h8","band":"none","x":84,"y":906},{"part":"d-h8","band":"none","x":97,"y":907},{"part":"d-h8","band":"none","x":97,"y":911},{"part":"d-h8","band":"none","x":84,"y":908},
{"part":"d-h9","band":"none","x":214,"y":902},{"part":"d-h9","band":"none","x":222,"y":908},{"part":"d-h9","band":"none","x":215,"y":915},{"part":"d-h9","band":"none","x":206,"y":909},
{"part":"d-h10","band":"none","x":322,"y":907},{"part":"d-h10","band":"none","x":327,"y":908},{"part":"d-h10","band":"none","x":327,"y":910},{"part":"d-h10","band":"none","x":322,"y":909},
{"part":"e","band":"0-0.1","x":653,"y":773},{"part":"e","band":"0-0.1","x":672,"y":772},{"part":"e","band":"0-0.1","x":698,"y":773},{"part":"e","band":"0-0.1","x":708,"y":778},{"part":"e","band":"0-0.1","x":732,"y":781},{"part":"e","band":"0-0.1","x":748,"y":788},{"part":"e","band":"0-0.1","x":770,"y":803},{"part":"e","band":"0-0.1","x":788,"y":823},{"part":"e","band":"0-0.1","x":798,"y":840},{"part":"e","band":"0-0.1","x":807,"y":850},{"part":"e","band":"0-0.1","x":812,"y":872},{"part":"e","band":"0-0.1","x":817,"y":880},{"part":"e","band":"0-0.1","x":820,"y":915},{"part":"e","band":"0-0.1","x":818,"y":952},{"part":"e","band":"0-0.1","x":812,"y":962},{"part":"e","band":"0-0.1","x":807,"y":980},{"part":"e","band":"0-0.1","x":798,"y":992},{"part":"e","band":"0-0.1","x":788,"y":1008},{"part":"e","band":"0-0.1","x":770,"y":1028},{"part":"e","band":"0-0.1","x":748,"y":1043},{"part":"e","band":"0-0.1","x":732,"y":1049},{"part":"e","band":"0-0.1","x":708,"y":1051},{"part":"e","band":"0-0.1","x":697,"y":1057},{"part":"e","band":"0-0.1","x":672,"y":1058},{"part":"e","band":"0-0.1","x":652,"y":1057},{"part":"e","band":"0-0.1","x":642,"y":1051},{"part":"e","band":"0-0.1","x":620,"y":1046},{"part":"e","band":"0-0.1","x":602,"y":1033},{"part":"e","band":"0-0.1","x":583,"y":1015},{"part":"e","band":"0-0.1","x":567,"y":995},{"part":"e","band":"0-0.1","x":562,"y":982},{"part":"e","band":"0-0.1","x":554,"y":965},{"part":"e","band":"0-0.1","x":551,"y":935},{"part":"e","band":"0-0.1","x":551,"y":898},{"part":"e","band":"0-0.1","x":553,"y":867},{"part":"e","band":"0-0.1","x":560,"y":855},{"part":"e","band":"0-0.1","x":566,"y":837},{"part":"e","band":"0-0.1","x":583,"y":815},{"part":"e","band":"0-0.1","x":603,"y":795},{"part":"e","band":"0-0.1","x":620,"y":784},{"part":"e","band":"0-0.1","x":640,"y":779},
{"part":"e-h","band":"none","x":566,"y":904},{"part":"e-h","band":"none","x":577,"y":906},{"part":"e-h","band":"none","x":600,"y":905},{"part":"e-h","band":"none","x":620,"y":904},{"part":"e-h","band":"none","x":626,"y":915},{"part":"e-h","band":"none","x":620,"y":926},{"part":"e-h","band":"none","x":600,"y":924},{"part":"e-h","band":"none","x":577,"y":924},{"part":"e-h","band":"none","x":566,"y":926},{"part":"e-h","band":"none","x":559,"y":915},
{"part":"f","band":"0-0.1","x":1137,"y":774},{"part":"f","band":"0-0.1","x":1158,"y":772},{"part":"f","band":"0-0.1","x":1187,"y":774},{"part":"f","band":"0-0.1","x":1197,"y":779},{"part":"f","band":"0-0.1","x":1222,"y":784},{"part":"f","band":"0-0.1","x":1242,"y":797},{"part":"f","band":"0-0.1","x":1258,"y":812},{"part":"f","band":"0-0.1","x":1282,"y":840},{"part":"f","band":"0-0.1","x":1293,"y":858},{"part":"f","band":"0-0.1","x":1297,"y":878},{"part":"f","band":"0-0.1","x":1303,"y":890},{"part":"f","band":"0-0.1","x":1305,"y":915},{"part":"f","band":"0-0.1","x":1303,"y":940},{"part":"f","band":"0-0.1","x":1297,"y":955},{"part":"f","band":"0-0.1","x":1293,"y":975},{"part":"f","band":"0-0.1","x":1282,"y":992},{"part":"f","band":"0-0.1","x":1258,"y":1023},{"part":"f","band":"0-0.1","x":1242,"y":1037},{"part":"f","band":"0-0.1","x":1222,"y":1048},{"part":"f","band":"0-0.1","x":1197,"y":1052},{"part":"f","band":"0-0.1","x":1185,"y":1057},{"part":"f","band":"0-0.1","x":1158,"y":1059},{"part":"f","band":"0-0.1","x":1137,"y":1057},{"part":"f","band":"0-0.1","x":1127,"y":1052},{"part":"f","band":"0-0.1","x":1105,"y":1048},{"part":"f","band":"0-0.1","x":1085,"y":1032},{"part":"f","band":"0-0.1","x":1068,"y":1013},{"part":"f","band":"0-0.1","x":1052,"y":995},{"part":"f","band":"0-0.1","x":1047,"y":975},{"part":"f","band":"0-0.1","x":1040,"y":965},{"part":"f","band":"0-0.1","x":1037,"y":932},{"part":"f","band":"0-0.1","x":1037,"y":898},{"part":"f","band":"0-0.1","x":1040,"y":868},{"part":"f","band":"0-0.1","x":1046,"y":858},{"part":"f","band":"0-0.1","x":1051,"y":838},{"part":"f","band":"0-0.1","x":1068,"y":817},{"part":"f","band":"0-0.1","x":1088,"y":797},{"part":"f","band":"0-0.1","x":1105,"y":785},{"part":"f","band":"0-0.1","x":1122,"y":782}
]},
"transform":[{"window":[{"op":"row_number","as":"vertex"}]}],
"mark":{"type":"line","strokeWidth":0,"interpolate":"linear","clip":false},
"encoding":{"x":{"field":"x","type":"quantitative","scale":{"domain":[0,1407],"nice":false,"zero":false},"axis":null},"y":{"field":"y","type":"quantitative","scale":{"domain":[1161,0],"nice":false,"zero":false},"axis":null},"order":{"field":"vertex","type":"quantitative"},"detail":{"field":"part"},"fill":{"field":"band","type":"nominal","legend":null,"scale":{"domain":["0-0.1","0.1-0.2","0.2-0.3","0.3-0.4","0.4-0.5","0.5-0.6","0.6-0.7","0.7-0.8","0.8-0.9","0.9-1","none"],"range":["#0000ff","#006eff","#00e1ff","#00ffa8","#00ff3c","#2cff00","#a8ff00","#ffe100","#ff6e00","#ff0000","#ffffff"]}}}},
{"data":{"values":[{"band":"0-0.1","lo":116,"hi":151.5,"top":74,"bottom":146},{"band":"0.1-0.2","lo":151.5,"hi":221.5,"top":74,"bottom":146},{"band":"0.2-0.3","lo":221.5,"hi":292.5,"top":74,"bottom":146},{"band":"0.3-0.4","lo":292.5,"hi":362,"top":74,"bottom":146},{"band":"0.4-0.5","lo":362,"hi":432,"top":74,"bottom":146},{"band":"0.5-0.6","lo":432,"hi":502,"top":74,"bottom":146},{"band":"0.6-0.7","lo":502,"hi":572,"top":74,"bottom":146},{"band":"0.7-0.8","lo":572,"hi":642,"top":74,"bottom":146},{"band":"0.8-0.9","lo":642,"hi":712.5,"top":74,"bottom":146},{"band":"0.9-1","lo":712.5,"hi":747,"top":74,"bottom":146}]},
"mark":{"type":"rect"},
"encoding":{"x":{"field":"lo","type":"quantitative"},"x2":{"field":"hi"},"y":{"field":"top","type":"quantitative"},"y2":{"field":"bottom"},"fill":{"field":"band","type":"nominal","legend":null}}},
{"data":{"values":[{"label":"0.1","x":155,"y":53},{"label":"0.3","x":295,"y":53},{"label":"0.5","x":435,"y":53},{"label":"0.7","x":575,"y":53},{"label":"0.9","x":715,"y":53}]},
"mark":{"type":"text","font":"Liberation Serif","fontWeight":"bold","fontSize":50,"baseline":"alphabetic","align":"center","color":"#000000"},
"encoding":{"x":{"field":"x","type":"quantitative"},"y":{"field":"y","type":"quantitative"},"text":{"field":"label"}}},
{"data":{"values":[{"label":"(a)","x":223,"y":705},{"label":"(b)","x":683,"y":705},{"label":"(c)","x":1164,"y":711},{"label":"(d)","x":223,"y":1132},{"label":"(e)","x":683,"y":1132},{"label":"(f)","x":1164,"y":1132}]},
"mark":{"type":"text","font":"Liberation Serif","fontWeight":"bold","fontSize":58,"baseline":"alphabetic","align":"center","color":"#000000"},
"encoding":{"x":{"field":"x","type":"quantitative"},"y":{"field":"y","type":"quantitative"},"text":{"field":"label"}}},
{"data":{"values":[{"label":"β","x":13,"y":127}]},
"mark":{"type":"text","font":"Liberation Serif","fontWeight":"bold","fontStyle":"italic","fontSize":64,"baseline":"alphabetic","align":"left","color":"#000000"},
"encoding":{"x":{"field":"x","type":"quantitative"},"y":{"field":"y","type":"quantitative"},"text":{"field":"label"}}},
{"data":{"values":[{"label":"Al","x":47,"y":133}]},
"mark":{"type":"text","font":"Liberation Serif","fontWeight":"bold","fontSize":38,"baseline":"alphabetic","align":"left","color":"#000000"},
"encoding":{"x":{"field":"x","type":"quantitative"},"y":{"field":"y","type":"quantitative"},"text":{"field":"label"}}}
]}
